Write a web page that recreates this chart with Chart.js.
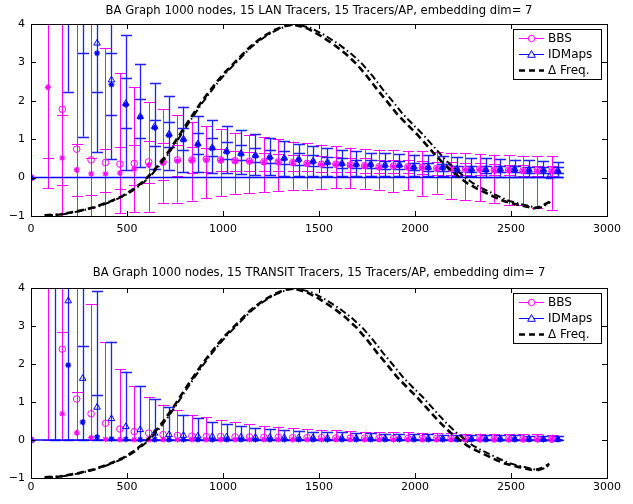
<!DOCTYPE html>
<html>
<head>
<meta charset="utf-8">
<script src="https://cdn.jsdelivr.net/npm/chart.js@4.4.0/dist/chart.umd.min.js"></script>
<style>
  html, body { margin: 0; padding: 0; background: #fff; }
  #wrap { position: relative; width: 633px; height: 504px; }
  canvas { position: absolute; left: 0; }
</style>
</head>
<body>
<div id="wrap">
  <canvas id="lanChart" width="633" height="252" style="top:0"></canvas>
  <canvas id="transitChart" width="633" height="252" style="top:252px"></canvas>
</div>
<script>
// x positions of the two estimators
const bbsX = [0, 88, 163, 238, 313, 388, 463, 538, 613, 688, 763, 838, 913, 988, 1063, 1138, 1213, 1288, 1363, 1438, 1513, 1588, 1663, 1738, 1813, 1888, 1963, 2038, 2113, 2188, 2263, 2338, 2413, 2488, 2563, 2638, 2713];
const lanIdmX = [0, 194, 269, 344, 419, 494, 569, 644, 719, 794, 869, 944, 1019, 1094, 1169, 1244, 1319, 1394, 1469, 1544, 1619, 1694, 1769, 1844, 1919, 1994, 2069, 2144, 2219, 2294, 2369, 2444, 2519, 2594, 2669, 2700, 2744];
const transitIdmX = [0, 123, 194, 269, 344, 419, 494, 569, 644, 719, 794, 869, 944, 1019, 1094, 1169, 1244, 1319, 1394, 1469, 1544, 1619, 1694, 1769, 1844, 1919, 1994, 2069, 2144, 2219, 2294, 2369, 2444, 2519, 2594, 2669, 2744];

// LAN tracers - BBS
const lanBbsMean = [0, 6.0, 1.78, 0.74, 0.46, 0.39, 0.35, 0.37, 0.41, 0.41, 0.46, 0.46, 0.48, 0.46, 0.44, 0.43, 0.41, 0.41, 0.39, 0.37, 0.35, 0.35, 0.33, 0.31, 0.28, 0.30, 0.28, 0.27, 0.24, 0.24, 0.22, 0.22, 0.20, 0.20, 0.18, 0.18, 0.18];
const lanBbsMed = [null, 2.35, 0.51, 0.20, 0.10, 0.10, 0.12, 0.22, 0.33, 0.38, 0.44, 0.45, 0.46, 0.45, 0.43, 0.42, 0.40, 0.40, 0.38, 0.36, 0.34, 0.34, 0.32, 0.30, 0.27, 0.29, 0.27, 0.26, 0.23, 0.23, 0.21, 0.21, 0.19, 0.19, 0.17, 0.17, 0.17];
const lanBbsLo = [null, -0.28, -5, -4, -4, -2.6, -0.93, -0.89, -0.89, -0.67, -0.65, -0.60, -0.54, -0.48, -0.43, -0.40, -0.37, -0.35, -0.33, -0.31, -0.30, -0.28, -0.28, -0.29, -0.32, -0.38, -0.33, -0.47, -0.42, -0.57, -0.58, -0.62, -0.65, -0.71, -0.71, -0.78, -0.84];
const lanBbsHi = [null, 9, 8.5, 5.5, 4.9, 3.38, 2.72, 2.35, 1.96, 1.78, 1.62, 1.45, 1.34, 1.26, 1.17, 1.11, 1.05, 1.00, 0.94, 0.90, 0.86, 0.82, 0.78, 0.75, 0.73, 0.72, 0.70, 0.68, 0.66, 0.65, 0.63, 0.62, 0.60, 0.58, 0.57, 0.56, 0.55];
const lanBbsInLo = [null, 0.52, -0.19, -0.48, -0.45, -0.38, -0.30, -0.20, -0.15, -0.05, 0.05, 0.12, 0.15, 0.16, 0.17, 0.18, 0.18, 0.18, 0.17, 0.16, 0.15, 0.15, 0.14, 0.13, 0.11, 0.12, 0.11, 0.10, 0.08, 0.08, 0.07, 0.07, 0.06, 0.06, 0.05, 0.05, 0.05];
const lanBbsInHi = [null, null, 1.63, 0.87, 0.50, 0.75, 0.80, 0.85, 0.95, 0.90, 0.85, 0.80, 0.78, 0.74, 0.70, 0.67, 0.64, 0.62, 0.60, 0.58, 0.55, 0.54, 0.52, 0.50, 0.46, 0.47, 0.45, 0.43, 0.40, 0.40, 0.38, 0.37, 0.35, 0.34, 0.32, 0.31, 0.31];

// LAN tracers - IDMaps
const lanIdmMean = [0, 5.5, 4.4, 3.50, 2.54, 1.93, 1.59, 1.33, 1.13, 1.00, 0.88, 0.78, 0.69, 0.63, 0.58, 0.54, 0.51, 0.48, 0.43, 0.40, 0.37, 0.35, 0.35, 0.33, 0.33, 0.28, 0.27, 0.27, 0.22, 0.22, 0.21, 0.22, 0.22, 0.20, 0.20, 0.02, 0.18];
const lanIdmMed = [null, 4.8, 4.2, 3.24, 2.42, 1.90, 1.57, 1.30, 1.10, 0.98, 0.86, 0.76, 0.67, 0.61, 0.56, 0.52, 0.49, 0.46, 0.41, 0.38, 0.35, 0.33, 0.33, 0.31, 0.31, 0.26, 0.25, 0.25, 0.20, 0.20, 0.19, 0.20, 0.20, 0.18, 0.18, null, 0.16];
const lanIdmLo = [null, 2.24, 1.07, 0.67, 0.48, 0.20, 0.28, 0.22, 0.21, 0.15, 0.15, 0.11, 0.11, 0.09, 0.07, 0.07, 0.05, 0.05, 0.04, 0.04, 0.04, 0.05, 0.05, 0.04, 0.04, 0.03, 0.03, 0.03, 0.03, 0.03, 0.02, 0.02, 0.02, 0.02, 0.02, null, 0.02];
const lanIdmHi = [null, 9, 9, 9, 4.6, 3.71, 2.95, 2.46, 2.13, 1.85, 1.61, 1.50, 1.34, 1.24, 1.13, 1.02, 0.96, 0.88, 0.83, 0.78, 0.72, 0.70, 0.65, 0.63, 0.62, 0.60, 0.58, 0.56, 0.54, 0.52, 0.50, 0.49, 0.47, 0.45, 0.43, null, 0.41];
const lanIdmInLo = [null, null, null, 2.24, 1.63, 1.28, 1.04, 0.82, 0.80, 0.72, 0.62, 0.55, 0.48, 0.45, 0.40, 0.38, 0.36, 0.34, 0.30, 0.28, 0.26, 0.25, 0.24, 0.22, 0.22, 0.19, 0.18, 0.18, 0.14, 0.14, 0.13, 0.14, 0.14, 0.12, 0.12, null, 0.12];
const lanIdmInHi = [null, null, 3.24, null, 3.24, 2.59, 2.04, 1.50, 1.45, 1.30, 1.15, 1.02, 0.92, 0.85, 0.78, 0.72, 0.68, 0.64, 0.58, 0.54, 0.50, 0.47, 0.46, 0.44, 0.43, 0.38, 0.37, 0.36, 0.31, 0.31, 0.30, 0.31, 0.30, 0.28, 0.28, null, 0.28];

// TRANSIT tracers - BBS
const trBbsMean = [0, 6.0, 2.39, 1.08, 0.69, 0.44, 0.29, 0.22, 0.18, 0.14, 0.12, 0.10, 0.09, 0.09, 0.08, 0.08, 0.07, 0.07, 0.06, 0.06, 0.06, 0.05, 0.05, 0.05, 0.05, 0.04, 0.04, 0.04, 0.04, 0.04, 0.03, 0.03, 0.03, 0.03, 0.03, 0.03, 0.02];
const trBbsMed = [null, 5.0, 0.69, 0.19, 0.06, 0.02, 0.01, 0.01, 0.01, 0.01, 0.01, 0.01, 0.01, 0.01, 0.01, 0.01, 0.01, 0.01, 0.01, 0.01, 0.01, 0.01, 0.01, 0.01, 0.01, 0.01, 0.01, 0.01, 0.01, 0.01, 0.01, 0.01, 0.01, 0.01, 0.01, 0.01, 0.01];
const trBbsLo = [null, 0, 0, 0, 0, 0, 0, 0, 0, 0, 0, 0, 0, 0, 0, 0, 0, 0, 0, 0, 0, 0, 0, 0, 0, 0, 0, 0, 0, 0, 0, 0, 0, 0, 0, 0, 0];
const trBbsHi = [null, 9, 9, 9, 3.57, 2.58, 1.87, 1.41, 1.12, 0.93, 0.79, 0.66, 0.60, 0.53, 0.48, 0.42, 0.37, 0.35, 0.31, 0.29, 0.27, 0.26, 0.24, 0.22, 0.21, 0.21, 0.20, 0.19, 0.19, 0.18, 0.17, 0.17, 0.16, 0.16, 0.15, 0.15, 0.14];
const trBbsInHi = [null, null, 2.83, 1.26];

// TRANSIT tracers - IDMaps
const trIdmMean = [0, 6.0, 3.66, 1.62, 0.86, 0.56, 0.35, 0.27, 0.18, 0.14, 0.12, 0.10, 0.09, 0.08, 0.08, 0.07, 0.07, 0.06, 0.06, 0.06, 0.05, 0.05, 0.05, 0.05, 0.04, 0.04, 0.04, 0.04, 0.04, 0.03, 0.03, 0.03, 0.03, 0.03, 0.03, 0.02, 0.02];
const trIdmMed = [null, 5.0, 1.97, 0.47, 0.08, 0.03, 0.02, 0.01, 0.01, 0.01, 0.01, 0.01, 0.01, 0.01, 0.01, 0.01, 0.01, 0.01, 0.01, 0.01, 0.01, 0.01, 0.01, 0.01, 0.01, 0.01, 0.01, 0.01, 0.01, 0.01, 0.01, 0.01, 0.01, 0.01, 0.01, 0.01, 0.01];
const trIdmLo = [null, 0, 0, 0, 0, 0, 0, 0, 0, 0, 0, 0, 0, 0, 0, 0, 0, 0, 0, 0, 0, 0, 0, 0, 0, 0, 0, 0, 0, 0, 0, 0, 0, 0, 0, 0, 0];
const trIdmHi = [null, 9, 9, 9, 3.92, 2.59, 1.80, 1.41, 1.08, 0.86, 0.66, 0.57, 0.48, 0.42, 0.37, 0.31, 0.29, 0.27, 0.25, 0.22, 0.21, 0.20, 0.19, 0.18, 0.17, 0.16, 0.15, 0.15, 0.14, 0.14, 0.13, 0.13, 0.12, 0.12, 0.11, 0.11, 0.10];
const trIdmInHi = [null, null, null, 2.48, 1.19];

// Delta frequency curves (same graph in both panels)
const freqX = [70, 150, 240, 330, 413, 480, 534, 580, 621, 665, 708, 750, 795, 840, 882, 925, 969, 1012, 1055, 1100, 1142, 1185, 1229, 1272, 1316, 1345, 1380, 1437, 1500, 1576, 1640, 1697, 1750, 1802, 1855, 1906, 1958, 2010, 2055, 2097, 2140, 2184, 2228, 2270, 2320, 2375, 2420, 2462, 2505, 2548, 2585, 2618, 2650, 2675, 2700];
const freqX2 = [78, 158, 248, 338, 421, 488, 542, 588, 629, 673, 716, 758, 803, 848, 890, 933, 977, 1020, 1063, 1108, 1150, 1193, 1238, 1282, 1328, 1360, 1400, 1460, 1526, 1604, 1669, 1727, 1780, 1832, 1885, 1936, 1988, 2040, 2085, 2127, 2170, 2214, 2258, 2300, 2350, 2405, 2450, 2492, 2535, 2578, 2610, 2640, 2665, 2688, 2705];
const freqY = [-0.98, -0.96, -0.88, -0.77, -0.62, -0.47, -0.30, -0.12, 0.08, 0.33, 0.62, 0.93, 1.28, 1.62, 1.93, 2.22, 2.50, 2.75, 2.97, 3.20, 3.41, 3.58, 3.73, 3.85, 3.94, 3.98, 3.97, 3.89, 3.72, 3.47, 3.22, 2.95, 2.64, 2.30, 1.98, 1.66, 1.39, 1.13, 0.88, 0.64, 0.41, 0.20, 0.02, -0.14, -0.28, -0.41, -0.52, -0.61, -0.67, -0.72, -0.76, -0.80, -0.76, -0.70, -0.63];

const baseX = [0, 2770];
const baseY = [0, 0];

const xTicks = [0, 500, 1000, 1500, 2000, 2500, 3000];
const yTicks = [-1, 0, 1, 2, 3, 4];

const FONT = "'DejaVu Sans', sans-serif";
const MAGENTA = '#ff00ff';
const BLUE = '#0000ff';
const BAR_BLUE = '#1f1fff';

function pts(xs, ys) {
  return xs.map((x, i) => ({ x, y: ys[i] })).filter(p => p.y !== null && p.y !== undefined);
}

function has(v) { return v !== null && v !== undefined; }

// error bars, frame, inward ticks, title and legend
function framePlugin(title, titleY, bars) {
  return {
    id: 'frame',
    beforeDatasetsDraw(chart) {
      const { ctx, chartArea: a, scales: { x, y } } = chart;
      ctx.save();
      ctx.beginPath();
      ctx.rect(a.left, a.top, a.right - a.left, a.bottom - a.top);
      ctx.clip();
      bars.forEach(s => {
        ctx.strokeStyle = s.color;
        ctx.lineWidth = s.width;
        ctx.beginPath();
        s.xs.forEach((xv, i) => {
          const px = Math.round(x.getPixelForValue(xv)) + 0.5;
          const cap = v => {
            if (!has(v)) return;
            const py = Math.round(y.getPixelForValue(v)) + 0.5;
            ctx.moveTo(px - 5.5, py); ctx.lineTo(px + 5.5, py);
          };
          if (has(s.lo[i]) && has(s.hi[i])) {
            ctx.moveTo(px, y.getPixelForValue(s.lo[i]));
            ctx.lineTo(px, y.getPixelForValue(s.hi[i]));
          }
          cap(s.lo[i]); cap(s.hi[i]);
          if (s.inLo) cap(s.inLo[i]);
          if (s.inHi) cap(s.inHi[i]);
        });
        ctx.stroke();
      });
      ctx.restore();
    },
    afterDraw(chart) {
      const { ctx, chartArea: a, scales: { x, y } } = chart;
      ctx.save();
      ctx.strokeStyle = '#000';
      ctx.lineWidth = 1;
      ctx.strokeRect(a.left + 0.5, a.top + 0.5, a.right - a.left, a.bottom - a.top);
      ctx.beginPath();
      xTicks.forEach(v => {
        const p = Math.round(x.getPixelForValue(v)) + 0.5;
        ctx.moveTo(p, a.bottom); ctx.lineTo(p, a.bottom - 5);
        ctx.moveTo(p, a.top); ctx.lineTo(p, a.top + 5);
      });
      yTicks.forEach(v => {
        const p = Math.round(y.getPixelForValue(v)) + 0.5;
        ctx.moveTo(a.left, p); ctx.lineTo(a.left + 5, p);
        ctx.moveTo(a.right, p); ctx.lineTo(a.right - 5, p);
      });
      ctx.stroke();

      ctx.fillStyle = '#000';
      ctx.font = '11.6px ' + FONT;
      ctx.textAlign = 'center';
      ctx.textBaseline = 'middle';
      ctx.fillText(title, (a.left + a.right) / 2, titleY);

      // legend box
      const w = 88, h = 50;
      const lx = Math.round(a.right - w - 6), ly = Math.round(a.top + 5);
      ctx.fillStyle = '#fff';
      ctx.fillRect(lx, ly, w, h);
      ctx.strokeStyle = '#000';
      ctx.strokeRect(lx + 0.5, ly + 0.5, w, h);
      const rows = [
        { label: 'BBS', color: MAGENTA, dash: [], width: 1, marker: 'circle' },
        { label: 'IDMaps', color: BLUE, dash: [], width: 1, marker: 'triangle' },
        { label: '\u0394 Freq.', color: '#000', dash: [6, 4], width: 2.6, marker: null }
      ];
      rows.forEach((r, i) => {
        const ry = ly + 9.5 + i * 16;
        const x0 = lx + 6, x1 = lx + 31, xm = (x0 + x1) / 2;
        ctx.strokeStyle = r.color;
        ctx.lineWidth = r.width;
        ctx.setLineDash(r.dash);
        ctx.beginPath(); ctx.moveTo(x0, ry); ctx.lineTo(x1, ry); ctx.stroke();
        ctx.setLineDash([]);
        ctx.lineWidth = 1;
        if (r.marker === 'circle') {
          ctx.fillStyle = '#fff';
          ctx.beginPath(); ctx.arc(xm, ry, 3.2, 0, Math.PI * 2); ctx.fill(); ctx.stroke();
        } else if (r.marker === 'triangle') {
          ctx.fillStyle = '#fff';
          ctx.beginPath(); ctx.moveTo(xm, ry - 4); ctx.lineTo(xm + 3.8, ry + 2.8); ctx.lineTo(xm - 3.8, ry + 2.8); ctx.closePath(); ctx.fill(); ctx.stroke();
        }
        ctx.fillStyle = '#000';
        ctx.font = '12px ' + FONT;
        ctx.textAlign = 'left';
        ctx.fillText(r.label, lx + 35, ry + 0.5);
      });
      ctx.restore();
    }
  };
}

function makeChart(id, title, layout, bbs, idm) {
  const bars = [
    { xs: bbs.xs, lo: bbs.lo, hi: bbs.hi, inLo: bbs.inLo, inHi: bbs.inHi, color: MAGENTA, width: 1 },
    { xs: idm.xs, lo: idm.lo, hi: idm.hi, inLo: idm.inLo, inHi: idm.inHi, color: BAR_BLUE, width: 1.3 }
  ];
  new Chart(document.getElementById(id), {
    type: 'scatter',
    data: {
      datasets: [
        { label: '\u0394 Freq.', type: 'line', data: pts(freqX, freqY), borderColor: '#000', borderWidth: 2.6,
          borderDash: [7, 4], pointRadius: 0, fill: false, tension: 0 },
        { label: '\u0394 Freq. 2', type: 'line', data: pts(freqX2, freqY), borderColor: '#000', borderWidth: 2,
          borderDash: [7, 3, 1.5, 3], pointRadius: 0, fill: false, tension: 0 },
        { label: 'IDMaps', data: pts(idm.xs, idm.mean), pointStyle: 'triangle', pointRadius: 3.8,
          borderColor: BLUE, backgroundColor: 'rgba(0,0,0,0)', borderWidth: 1 },
        { label: 'IDMaps median', data: pts(idm.xs, idm.med), pointStyle: 'star', pointRadius: 3,
          borderColor: BLUE, borderWidth: 1.2 },
        { label: 'BBS', data: pts(bbs.xs, bbs.mean), pointStyle: 'circle', pointRadius: 3.3,
          borderColor: MAGENTA, backgroundColor: 'rgba(0,0,0,0)', borderWidth: 1 },
        { label: 'BBS median', data: pts(bbs.xs, bbs.med), pointStyle: 'star', pointRadius: 3,
          borderColor: MAGENTA, borderWidth: 1.2 },
        { label: 'zero', type: 'line', data: pts(baseX, baseY), borderColor: BLUE, borderWidth: 1.5,
          pointRadius: 0, fill: false }
      ]
    },
    options: {
      responsive: false,
      animation: false,
      events: [],
      layout: { padding: { left: 0, right: 26, top: layout.top, bottom: 0 } },
      plugins: { legend: { display: false }, tooltip: { enabled: false }, title: { display: false } },
      scales: {
        x: {
          type: 'linear', min: 0, max: 3000,
          afterBuildTicks: s => { s.ticks = xTicks.map(v => ({ value: v })); },
          ticks: { padding: layout.xPad, color: '#000', font: { family: FONT, size: 11 }, maxRotation: 0, autoSkip: false,
            callback: v => String(v) },
          grid: { display: false, drawTicks: false },
          border: { display: false },
          afterFit: s => { s.height = layout.xh; }
        },
        y: {
          type: 'linear', min: -1, max: 4,
          afterBuildTicks: s => { s.ticks = yTicks.map(v => ({ value: v })); },
          ticks: { padding: 6, color: '#000', font: { family: FONT, size: 11 },
            callback: v => (v < 0 ? '\u2212' + Math.abs(v) : String(v)) },
          grid: { display: false, drawTicks: false },
          border: { display: false },
          afterFit: s => { s.width = 31; }
        }
      }
    },
    plugins: [framePlugin(title, layout.titleY, bars)]
  });
}

makeChart('lanChart', 'BA Graph 1000 nodes, 15 LAN Tracers, 15 Tracers/AP, embedding dim= 7',
  { top: 24, xh: 36, xPad: 6.4, titleY: 10.5 },
  { xs: bbsX, mean: lanBbsMean, med: lanBbsMed, lo: lanBbsLo, hi: lanBbsHi, inLo: lanBbsInLo, inHi: lanBbsInHi },
  { xs: lanIdmX, mean: lanIdmMean, med: lanIdmMed, lo: lanIdmLo, hi: lanIdmHi, inLo: lanIdmInLo, inHi: lanIdmInHi });

makeChart('transitChart', 'BA Graph 1000 nodes, 15 TRANSIT Tracers, 15 Tracers/AP, embedding dim= 7',
  { top: 36, xh: 26, xPad: 2.9, titleY: 21 },
  { xs: bbsX, mean: trBbsMean, med: trBbsMed, lo: trBbsLo, hi: trBbsHi, inLo: null, inHi: trBbsInHi },
  { xs: transitIdmX, mean: trIdmMean, med: trIdmMed, lo: trIdmLo, hi: trIdmHi, inLo: null, inHi: trIdmInHi });
</script>
</body>
</html>
